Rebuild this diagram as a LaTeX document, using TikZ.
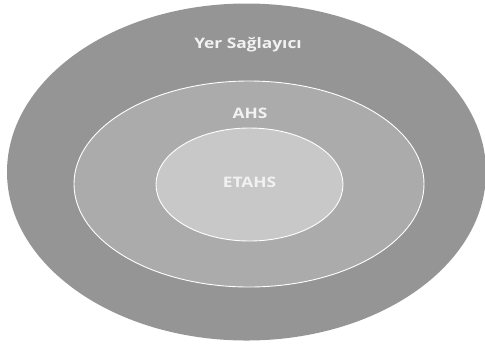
\documentclass[tikz,border=0pt]{standalone}
\usepackage{fontspec}
\newfontfamily\ringfont[FakeStretch=1.2]{Open Sans}
\usetikzlibrary{shapes.geometric,positioning}

\definecolor{ringdark}{HTML}{959595}
\definecolor{ringmid}{HTML}{ABABAB}
\definecolor{ringlight}{HTML}{C8C8C8}
\definecolor{labelwhite}{HTML}{F2F2F2}

\tikzset{
	ring/.style={ellipse,draw=white,line width=0.9bp,inner sep=0pt},
	ringlabel/.style={text=labelwhite,font=\ringfont\bfseries\fontsize{14.5}{17}\selectfont,inner sep=0pt}
}

\begin{document}
\begin{tikzpicture}[x=1bp,y=-1bp]
\useasboundingbox (0,0) rectangle (485,343);
% rings
\node[ring,fill=ringdark,draw=none,minimum width=479bp,minimum height=337bp] (yer) at (246.5,172) {};
\node[ring,fill=ringmid,minimum width=350bp,minimum height=206bp] (ahs) at (249,184) {};
\node[ring,fill=ringlight,minimum width=187bp,minimum height=113bp] (etahs) at (249.5,184.5) {};
% labels
\node[ringlabel,anchor=base] (yerlabel) at (248,48) {Yer Sağlayıcı};
\node[ringlabel,anchor=base] (ahslabel) at (250,118) {AHS};
\node[ringlabel,anchor=base] (etahslabel) at (249.5,187) {ETAHS};
\end{tikzpicture}
\end{document}
